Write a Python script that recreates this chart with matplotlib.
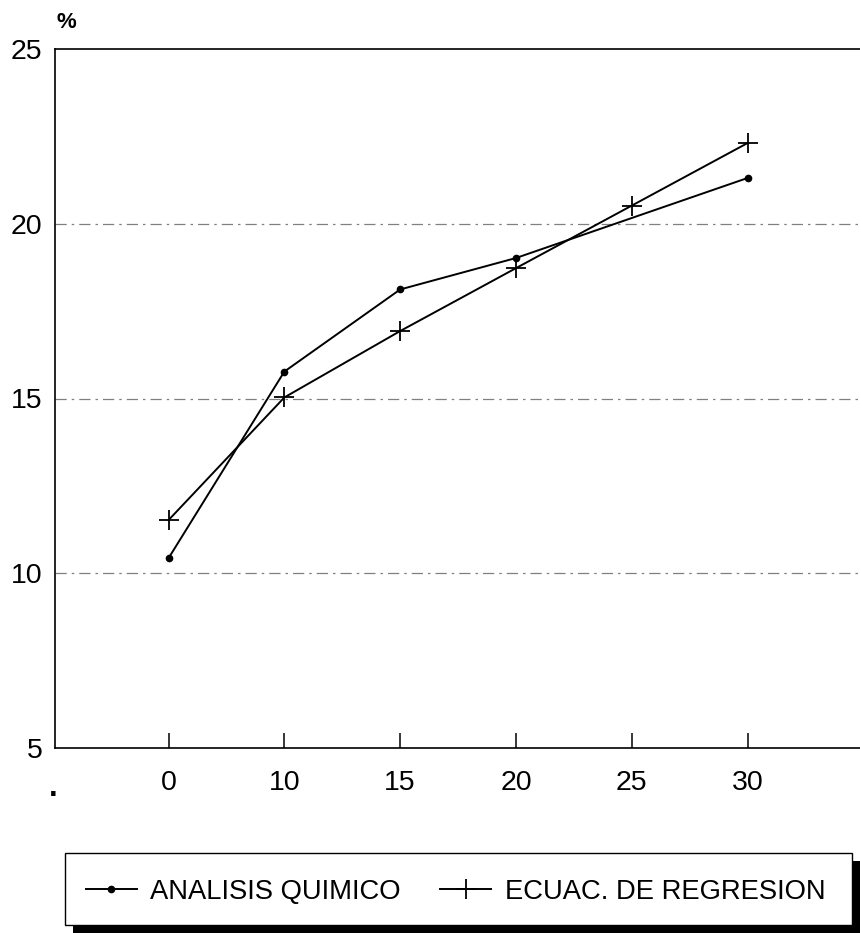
import numpy as np
import matplotlib
matplotlib.use("Agg")
import matplotlib.pyplot as plt
from matplotlib.patches import Rectangle

categories = ["0", "10", "15", "20", "25", "30"]
analisis = [10.43, 15.77, 18.12, 19.02, np.nan, 21.31]
regresion = [11.52, 15.03, 16.93, 18.73, 20.52, 22.31]
yticks = [5, 10, 15, 20, 25]

plt.rcParams['font.family'] = ['Liberation Sans', 'DejaVu Sans']

fig = plt.figure(figsize=(8.6, 9.33), dpi=100)
ax = fig.add_axes([55/860, 1-748/933, 1-55/860, (748-49)/933])

x = np.arange(len(categories))
a = np.array(analisis, dtype=float)
m = ~np.isnan(a)
la, = ax.plot(x[m], a[m], color='black', lw=1.4, marker='o', markersize=4.5,
              label='ANALISIS QUIMICO')
lr, = ax.plot(x, regresion, color='black', lw=1.4, marker='+', markersize=14,
              markeredgewidth=1.3, label='ECUAC. DE REGRESION')

ax.set_xlim(-0.98, 5.97)
ax.set_ylim(5, 25)
ax.set_xticks(x)
ax.set_xticklabels(categories)
ax.set_yticks(yticks)
for yv in [10, 15, 20]:
    ax.axhline(yv, color='0.5', lw=0.9, dashes=(9, 4, 2, 4), zorder=0)

ax.spines['right'].set_visible(False)
for s in ['left', 'bottom', 'top']:
    ax.spines[s].set_linewidth(1.2)
ax.tick_params(axis='x', direction='in', length=11, width=1.1, pad=16,
               labelsize=20.5)
ax.tick_params(axis='y', length=0, pad=9, labelsize=20.5)

fig.text(57/860, 1-23/933, '%', fontsize=16, fontweight='bold', ha='left', va='center')
fig.text(53/860, 1-788/933, '.', fontsize=22, fontweight='bold', ha='center', va='center')

# legend box with black shadow
fig.patches.append(Rectangle((73/860, 0), 1-73/860, (933-861)/933,
                             transform=fig.transFigure, facecolor='black',
                             edgecolor='none', zorder=1))
fig.patches.append(Rectangle((65/860, 1-925/933), (852-65)/860, (925-853)/933,
                             transform=fig.transFigure, facecolor='white',
                             edgecolor='black', lw=1.0, zorder=2))
leg = fig.legend(handles=[la, lr], loc='center left',
                 bbox_to_anchor=(86/860, 1-892/933), bbox_transform=fig.transFigure,
                 ncol=2, frameon=False, fontsize=19.7, handlelength=1.85,
                 handletextpad=0.5, columnspacing=1.45, borderpad=0,
                 borderaxespad=0)
leg.set_zorder(5)

fig.savefig('out.png', dpi=100)
